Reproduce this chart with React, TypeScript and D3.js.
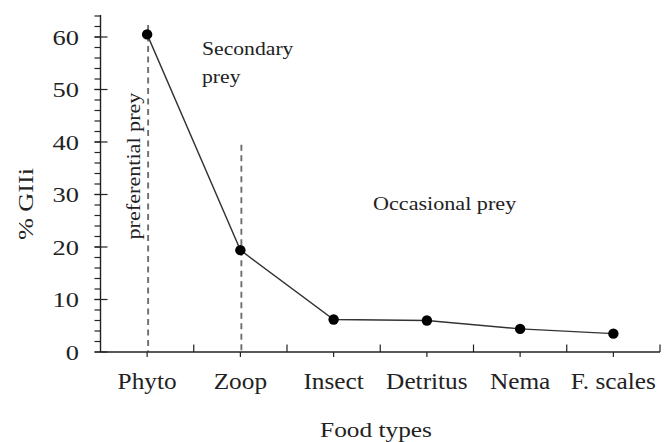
import { useEffect, useRef } from 'react';
import * as d3 from 'd3';

// food categories and % GIIi values
const categories = ['Phyto', 'Zoop', 'Insect', 'Detritus', 'Nema', 'F. scales'];
const giiValues = [60.5, 19.4, 6.2, 6.0, 4.4, 3.5];
const majorTicks = [0, 10, 20, 30, 40, 50, 60];
const minorTicks = d3.range(0, 65, 2);
// dashed guide lines: category and the value where the dash starts
const guideCats = ['Phyto', 'Zoop'];
const guideTops = [62.3, 39.5];

const FONT = "'Liberation Serif', 'Times New Roman', Tinos, Times, serif";

export default function App() {
  const svgRef = useRef<SVGSVGElement>(null);

  useEffect(() => {
    document.body.style.margin = '0';
    if (!svgRef.current) return;
    const svg = d3.select(svgRef.current);
    svg.selectAll('*').remove();

    const x = d3.scaleBand<string>().domain(categories).range([100.5, 660]).padding(0);
    const y = d3.scaleLinear().domain([0, 64]).range([352, 16]);
    const cx = (c: string) => (x(c) || 0) + x.bandwidth() / 2;
    const x0 = 100.5;
    const y0 = y(0);

    const g = svg.append('g').attr('font-family', FONT).attr('fill', '#222');

    // stretch text a little, the source font is wider than Times
    const stretch = (sel: d3.Selection<SVGTextElement, any, any, any>, k: number) => {
      sel.each(function () {
        const len = this.getComputedTextLength();
        d3.select(this).attr('textLength', len * k).attr('lengthAdjust', 'spacingAndGlyphs');
      });
    };

    // dashed guides
    guideCats.forEach((c, i) => {
      g.append('line')
        .attr('x1', cx(c) + 1).attr('x2', cx(c) + 1)
        .attr('y1', y(guideTops[i])).attr('y2', y0)
        .attr('stroke', '#6e6e6e')
        .attr('stroke-width', 1.9)
        .attr('stroke-dasharray', '6,4.5');
    });

    // y axis
    g.append('line')
      .attr('x1', x0).attr('x2', x0)
      .attr('y1', y(64) - 1).attr('y2', y0)
      .attr('stroke', '#222').attr('stroke-width', 1.4);
    g.selectAll('.minor')
      .data(minorTicks)
      .enter().append('line')
      .attr('x1', x0 - 6).attr('x2', x0)
      .attr('y1', d => y(d)).attr('y2', d => y(d))
      .attr('stroke', '#222').attr('stroke-width', 1.2);
    g.selectAll('.major')
      .data(majorTicks)
      .enter().append('line')
      .attr('x1', x0 - 6).attr('x2', x0 + 7)
      .attr('y1', d => y(d)).attr('y2', d => y(d))
      .attr('stroke', '#222').attr('stroke-width', 1.2);
    const yLabels = g.selectAll('.ylab')
      .data(majorTicks)
      .enter().append('text')
      .attr('x', 79)
      .attr('y', d => y(d) + 7.5)
      .attr('text-anchor', 'end')
      .attr('font-size', 22)
      .text(d => d);
    stretch(yLabels as any, 1.2);

    // x axis
    g.append('line')
      .attr('x1', x0).attr('x2', 660)
      .attr('y1', y0).attr('y2', y0)
      .attr('stroke', '#222').attr('stroke-width', 1.4);
    const bounds = categories.map(c => (x(c) || 0) + x.bandwidth());
    g.selectAll('.bound')
      .data(bounds)
      .enter().append('line')
      .attr('x1', d => d).attr('x2', d => d)
      .attr('y1', y0 - 7.5).attr('y2', y0)
      .attr('stroke', '#222').attr('stroke-width', 1.2);
    g.selectAll('.ctick')
      .data(categories)
      .enter().append('line')
      .attr('x1', d => cx(d)).attr('x2', d => cx(d))
      .attr('y1', y0).attr('y2', y0 + 5)
      .attr('stroke', '#222').attr('stroke-width', 1.2);
    const xLabels = g.selectAll('.xlab')
      .data(categories)
      .enter().append('text')
      .attr('x', d => cx(d))
      .attr('y', 388.5)
      .attr('text-anchor', 'middle')
      .attr('font-size', 23)
      .text(d => d);
    stretch(xLabels as any, 1.1);

    // line + points
    const pts = categories.map((c, i) => [cx(c), y(giiValues[i])] as [number, number]);
    g.append('path')
      .attr('d', d3.line()(pts))
      .attr('fill', 'none')
      .attr('stroke', '#333')
      .attr('stroke-width', 1.4);
    g.selectAll('.pt')
      .data(pts)
      .enter().append('circle')
      .attr('cx', d => d[0]).attr('cy', d => d[1])
      .attr('r', 5.2)
      .attr('fill', '#000');

    // titles and annotations
    const addText = (t: string, px: number, py: number, size: number, k: number, anchor = 'start', rotate = false) => {
      const el = g.append('text')
        .attr('x', rotate ? 0 : px)
        .attr('y', rotate ? 0 : py)
        .attr('transform', rotate ? `translate(${px},${py}) rotate(-90)` : null)
        .attr('text-anchor', anchor)
        .attr('font-size', size)
        .text(t);
      stretch(el as any, k);
    };
    addText('Food types', 376, 436.5, 22, 1.15, 'middle');
    addText('% GIIi', 33, 204, 22, 1.19, 'middle', true);
    addText('preferential prey', 139.5, 166, 18, 1.23, 'middle', true);
    addText('Secondary', 202, 55, 19, 1.14);
    addText('prey', 202, 82.5, 19, 1.14);
    addText('Occasional prey', 373, 209.5, 19, 1.165);
  }, []);

  return (
    <svg ref={svgRef} width={667} height={442} style={{ display: 'block', background: '#fff' }}></svg>
  );
}
